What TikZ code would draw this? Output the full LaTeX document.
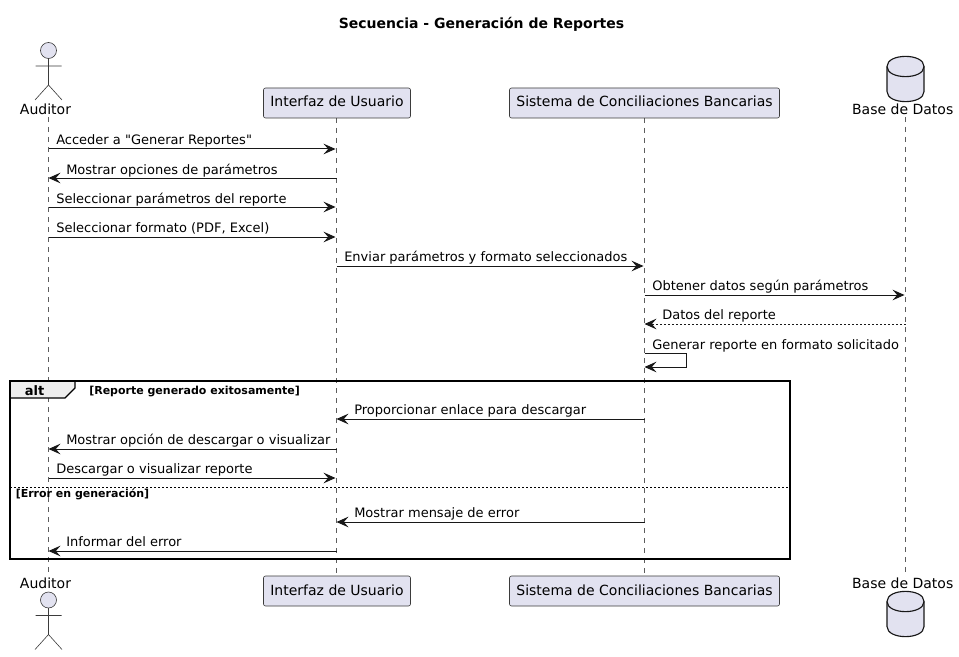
\documentclass[tikz,border=0pt]{standalone}
\usepackage{fontspec}
\setmainfont{DejaVu Sans}
\newfontfamily\plainfont{DejaVu Sans}
\usetikzlibrary{arrows.meta}
\definecolor{partfill}{HTML}{E2E2F0}
\definecolor{ink}{HTML}{181818}
\definecolor{tabfill}{HTML}{EEEEEE}
\tikzset{
  partbox/.style={draw=ink!85,line width=0.45pt,fill=partfill,rounded corners=1.5pt},
  parttext/.style={font=\fontsize{10.5}{12}\selectfont,inner sep=0pt,anchor=base,text=black},
  lifeline/.style={draw=ink!70,line width=0.4pt,dash pattern=on 3.75pt off 3.75pt},
  msgline/.style={draw=ink,line width=0.75pt,-{Stealth[length=9pt,width=8pt,inset=3.5pt]}},
  fwdline/.style={msgline,shorten >=0.75pt},
  retline/.style={msgline,dash pattern=on 1.5pt off 1.5pt},
  msgtext/.style={font=\fontsize{9.75}{12}\selectfont,inner sep=0pt,anchor=base west,text=black},
  actorline/.style={draw=ink!85,line width=0.45pt,fill=partfill},
  dbline/.style={draw=ink,line width=0.85pt,fill=partfill},
  framebox/.style={draw=black,line width=1.4pt},
  guardtext/.style={font=\bfseries\fontsize{8.25}{10}\selectfont,inner sep=0pt,anchor=base west,text=black},
}
\newcommand{\msgarrow}[7][msgline]{%
  \draw[#1] (#2 |- 0,#4) -- (#3 |- 0,#4);
  \node[msgtext] (t#4) at (#5,#6) {#7};
}
\newcommand{\actorfig}[1]{%
  \draw[actorline] (48.5,#1+7.5) circle[radius=6pt];
  \draw[actorline,fill=none] (48.5,#1+15.5) -- (48.5,#1+42)
    (35.5,#1+23) -- (61.5,#1+23)
    (35,#1+57) -- (48.5,#1+42) -- (62,#1+57);
}
\newcommand{\dbfig}[1]{%
  \draw[dbline] (887,#1+10.5) .. controls (887,#1-3) and (924,#1-3) .. (924,#1+10.5)
    -- (924,#1+35.5) .. controls (924,#1+49) and (887,#1+49) .. (887,#1+35.5) -- cycle;
  \draw[dbline,fill=none] (887,#1+10.5) .. controls (887,#1+24) and (924,#1+24) .. (924,#1+10.5);
}
\begin{document}
\begin{tikzpicture}[x=0.75pt,y=-0.75pt]
\useasboundingbox (0,0) rectangle (959,656);
\fill[white] (0,0) rectangle (959,656);

\node[font=\bfseries\fontsize{10.5}{12}\selectfont,inner sep=0pt,anchor=base] (title) at (481.5,28.4) {Secuencia - Generación de Reportes};

% lifeline ends
\coordinate (aT) at (48.5,117);
\coordinate (aB) at (48.5,575);
\coordinate (dT) at (905.5,117);
\coordinate (dB) at (905.5,575);
\coordinate (uT) at (336.5,118);
\coordinate (uB) at (336.5,576);
\coordinate (sT) at (644.5,118);
\coordinate (sB) at (644.5,576);
\draw[lifeline] (aT) -- (aB);
\draw[lifeline] (uT) -- (uB);
\draw[lifeline] (sT) -- (sB);
\draw[lifeline] (dT) -- (dB);

% top participants
\actorfig{43}
\node[parttext] (a1) at (45.5,115) {Auditor};
\draw[partbox] (263.5,88) rectangle (410.5,118);
\node[parttext] (u1) at (337,107) {Interfaz de Usuario};
\draw[partbox] (509.5,88) rectangle (779.5,118);
\node[parttext] (s1) at (644.5,107) {Sistema de Conciliaciones Bancarias};
\dbfig{56}
\node[parttext] (d1) at (902.7,115) {Base de Datos};

% frame
\fill[tabfill] (10,381) -- (75,381) -- (75,388) -- (65,398) -- (10,398) -- cycle;
\draw[black,line width=1pt] (10,398) -- (65,398) -- (75,388) -- (75,381);
\draw[framebox] (10,381) rectangle (790,559);
\draw[black,line width=0.6pt,dash pattern=on 1.5pt off 1.5pt] (10,487.5) -- (790,487.5);
\node[font=\bfseries\fontsize{9.75}{12}\selectfont,inner sep=0pt,anchor=base] (alt) at (34.5,395) {alt};
\node[guardtext] (g1) at (89,394) {[Reporte generado exitosamente]};
\node[guardtext] (g2) at (15.5,497.5) {[Error en generación]};

% messages
\msgarrow[fwdline]{aT}{uT}{149}{56}{145}{Acceder a {\plainfont\char34}Generar Reportes{\plainfont\char34}}
\msgarrow{uT}{aT}{178}{66}{174}{Mostrar opciones de parámetros}
\msgarrow[fwdline]{aT}{uT}{207}{56}{203}{Seleccionar parámetros del reporte}
\msgarrow[fwdline]{aT}{uT}{237}{56}{232}{Seleccionar formato (PDF, Excel)}
\msgarrow[fwdline]{uT}{sT}{266}{344}{261}{Enviar parámetros y formato seleccionados}
\msgarrow[fwdline]{sT}{dT}{295}{652}{290}{Obtener datos según parámetros}
\msgarrow[retline]{dT}{sT}{324}{662}{319}{Datos del reporte}
\draw[msgline] (sT |- 0,353) -- (686.5,353) -- (686.5,367) -- (sT |- 0,367);
\node[msgtext] (t353) at (652,349) {Generar reporte en formato solicitado};
\msgarrow{sT}{uT}{419}{354}{414.5}{Proporcionar enlace para descargar}
\msgarrow{uT}{aT}{449}{66}{444}{Mostrar opción de descargar o visualizar}
\msgarrow[fwdline]{aT}{uT}{478}{56}{473}{Descargar o visualizar reporte}
\msgarrow{sT}{uT}{522}{354}{517}{Mostrar mensaje de error}
\msgarrow{uT}{aT}{551}{66}{546}{Informar del error}

% bottom participants
\node[parttext] (a2) at (45.5,588) {Auditor};
\actorfig{592.5}
\draw[partbox] (263.5,576) rectangle (410.5,606);
\node[parttext] (u2) at (337,595) {Interfaz de Usuario};
\draw[partbox] (509.5,576) rectangle (779.5,606);
\node[parttext] (s2) at (644.5,595) {Sistema de Conciliaciones Bancarias};
\node[parttext] (d2) at (902.7,588) {Base de Datos};
\dbfig{591}
\end{tikzpicture}
\end{document}
